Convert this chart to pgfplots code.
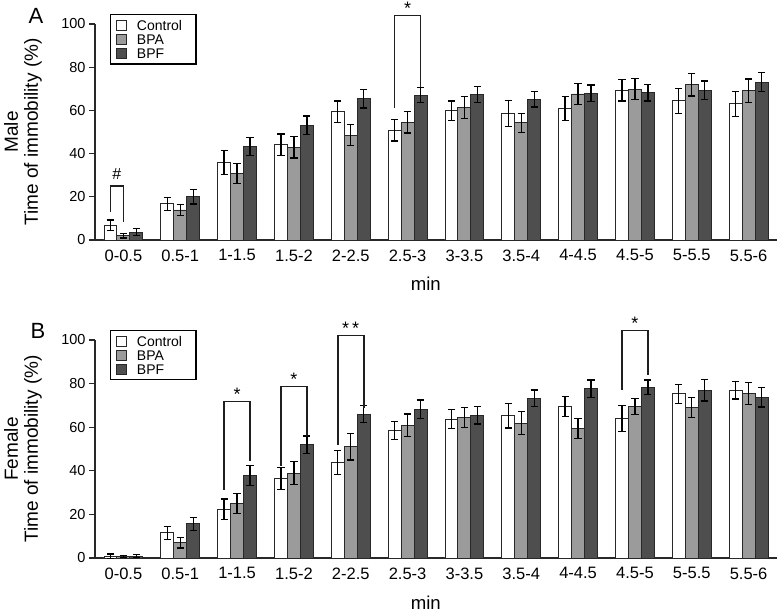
\documentclass[border=0pt]{standalone}
\usepackage{fontspec}
\setmainfont{Liberation Sans}
\usepackage{pgfplots}
\usepackage{pgfplotstable}
\pgfplotsset{compat=1.18}
\definecolor{bpa}{RGB}{155,155,155}
\definecolor{bpf}{RGB}{78,78,78}
\definecolor{edge}{RGB}{40,40,40}

\pgfplotstableread{
x c ce a ae f fe
0 6.8 2.5 1.9 1.0 3.7 1.5
1 16.7 3.0 13.9 2.5 20.0 3.4
2 35.8 5.5 30.9 4.6 43.2 4.2
3 44.1 5.0 42.9 5.0 53.2 4.2
4 59.3 5.0 48.6 5.0 65.4 4.3
5 50.9 5.0 54.5 5.0 67.1 3.6
6 59.9 4.5 61.4 5.0 67.3 3.8
7 58.6 5.9 54.3 4.4 65.1 3.5
8 60.8 5.5 67.6 5.0 67.9 3.9
9 69.3 5.0 69.9 5.0 68.1 3.8
10 64.4 5.7 71.8 5.2 69.4 4.2
11 63.1 5.8 69.1 5.5 73.1 4.3
}\male

\pgfplotstableread{
x c ce a ae f fe
0 0.9 1.0 0.6 0.5 0.9 0.6
1 11.5 3.0 7.0 2.4 15.7 3.0
2 22.4 4.6 24.9 4.6 37.9 4.6
3 36.5 5.0 38.9 5.3 51.9 4.1
4 43.8 5.5 51.0 6.0 66.0 4.0
5 58.5 4.2 60.9 5.2 68.2 4.3
6 63.7 4.4 64.4 4.6 65.5 4.1
7 65.3 5.6 61.8 5.3 73.3 3.7
8 69.5 4.6 59.5 4.6 77.6 4.0
9 64.1 6.0 69.5 3.6 78.3 3.4
10 75.3 4.3 68.9 4.6 76.9 4.9
11 76.9 4.0 75.4 5.0 73.7 4.4
}\female

\tikzset{brk/.style={line width=1.6pt, black!88}}
\pgfplotsset{
  panel/.style={
    scale only axis, width=682pt,
    xmin=-0.5, xmax=11.5, ymin=0, ymax=100,
    axis x line*=bottom, axis y line*=left,
    axis line style={-, line width=1.1pt, edge},
    clip=false,
    xtick={0,...,11},
    xticklabels={0-0.5,0.5-1,1-1.5,1.5-2,2-2.5,2.5-3,3-3.5,3.5-4,4-4.5,4.5-5,5-5.5,5.5-6},
    ytick={0,20,...,100},
    tick align=outside, major tick length=6pt,
    y tick style={line width=1.1pt, edge},
    x tick style={draw=none},
    /pgf/number format/assume math mode=true,
    xticklabel style={font=\fontsize{16.5}{18}\selectfont},
    yticklabel style={font=\fontsize{14.5}{16}\selectfont},
    xlabel={min},
    xlabel style={at={(axis description cs:0.485,0)}, anchor=base, yshift=-51pt, font=\fontsize{18.6}{20}\selectfont},
    ylabel style={at={(axis description cs:-0.1056,0.5)}, anchor=center, align=center, font=\fontsize{19}{20}\selectfont},
    ybar, bar width=0.228,
    legend image code/.code={\draw[#1, line width=0.9pt] (0pt,-5.25pt) rectangle (10.5pt,5.25pt);},
    legend style={at={(rel axis cs:0.022,1.046)}, anchor=north west,
      draw=black, line width=1.1pt, font=\fontsize{14}{14}\selectfont,
      inner xsep=5pt, inner ysep=5pt, row sep=2.6pt,
      nodes={inner sep=0pt, text height=10pt, text depth=0pt, text width=54pt, align=left},
      /tikz/every odd column/.append style={column sep=10pt}},
    legend cell align=left,
    every axis plot/.append style={bar shift=0pt, draw=edge, line width=0.9pt},
  },
  errs/.style={
      error bars/y dir=both, error bars/y explicit,
      error bars/error bar style={line width=1.3pt, black},
      error bars/error mark options={rotate=90, mark size=3.6pt, line width=1.3pt, black}},
}

\begin{document}
\begin{tikzpicture}
\useasboundingbox (0,0) rectangle (780pt,-612pt);

\begin{axis}[panel, height=216pt, at={(95pt,-240pt)}, anchor=south west,
  ylabel={Male\\Time of immobility (\%)}]
\addplot[fill=white, errs] table[x expr=\thisrow{x}-0.228, y=c, y error=ce]{\male};
\addplot[fill=bpa, errs] table[x expr=\thisrow{x}, y=a, y error=ae]{\male};
\addplot[fill=bpf, errs] table[x expr=\thisrow{x}+0.228, y=f, y error=fe]{\male};
\legend{Control,BPA,BPF}
\draw[brk] (axis cs:-0.228,13) -- (axis cs:-0.228,25) -- (axis cs:0,25) -- (axis cs:0,8.3);
\node[font=\fontsize{16}{16}\selectfont, anchor=base] at (axis cs:-0.114,28) {\#};
\draw[brk] (axis cs:4.772,61) -- (axis cs:4.772,104) -- (axis cs:5.228,104) -- (axis cs:5.228,71);
\node[font=\fontsize{18}{18}\selectfont, anchor=base] at (axis cs:5,104.3) {*};
\end{axis}

\begin{axis}[panel, height=218pt, at={(95pt,-558pt)}, anchor=south west,
  ylabel={Female\\Time of immobility (\%)}]
\addplot[fill=white, errs] table[x expr=\thisrow{x}-0.228, y=c, y error=ce]{\female};
\addplot[fill=bpa, errs] table[x expr=\thisrow{x}, y=a, y error=ae]{\female};
\addplot[fill=bpf, errs] table[x expr=\thisrow{x}+0.228, y=f, y error=fe]{\female};
\legend{Control,BPA,BPF}
\draw[brk] (axis cs:1.772,31.3) -- (axis cs:1.772,71.8) -- (axis cs:2.228,71.8) -- (axis cs:2.228,44.3);
\node[font=\fontsize{18}{18}\selectfont, anchor=base] at (axis cs:2,72.1) {*};
\draw[brk] (axis cs:2.772,42) -- (axis cs:2.772,78.6) -- (axis cs:3.228,78.6) -- (axis cs:3.228,56);
\node[font=\fontsize{18}{18}\selectfont, anchor=base] at (axis cs:3,78.9) {*};
\draw[brk] (axis cs:3.772,52) -- (axis cs:3.772,102) -- (axis cs:4.228,102) -- (axis cs:4.228,68.7);
\node[font=\fontsize{18}{18}\selectfont, anchor=base] at (axis cs:4,102.3) {*\,*};
\draw[brk] (axis cs:8.772,77) -- (axis cs:8.772,104.3) -- (axis cs:9.228,104.3) -- (axis cs:9.228,84);
\node[font=\fontsize{18}{18}\selectfont, anchor=base] at (axis cs:9,104.6) {*};
\end{axis}

\node[font=\fontsize{22}{22}\selectfont] at (36pt,-16pt) {A};
\node[font=\fontsize{22}{22}\selectfont] at (38pt,-331pt) {B};
\end{tikzpicture}
\end{document}
